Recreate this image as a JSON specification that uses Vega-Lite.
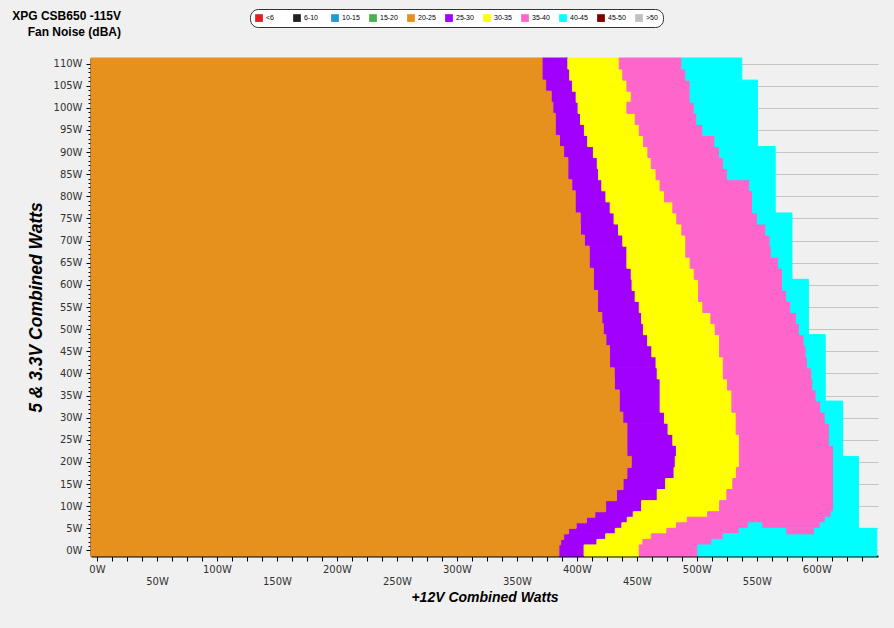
{
  "$schema": "https://vega.github.io/schema/vega-lite/v6.json",
  "width": 787,
  "height": 498,
  "autosize": {"type": "none"},
  "padding": {"left": 91, "top": 58, "right": 16, "bottom": 72},
  "background": "#f0f0f0",
  "title": {
    "text": ["XPG CSB650 -115V", "Fan Noise (dBA)"],
    "anchor": "start",
    "frame": "group",
    "align": "right",
    "dx": 30,
    "offset": 0,
    "dy": 30,
    "font": "Liberation Sans",
    "fontSize": 12,
    "fontWeight": "bold",
    "color": "#000000",
    "lineHeight": 15.5
  },
  "config": {
    "view": {"stroke": null},
    "axis": {
      "labelFont": "DejaVu Sans",
      "labelFontSize": 10,
      "labelColor": "#333333",
      "domainColor": "#000000",
      "domainWidth": 2,
      "tickColor": "#000000",
      "tickWidth": 1,
      "titleFont": "Liberation Sans",
      "titleFontWeight": "bold",
      "titleFontStyle": "italic",
      "titleColor": "#000000",
      "labelOverlap": false,
      "labelBound": false,
      "labelFlush": false
    }
  },
  "datasets": {
    "rows": [
      {"y0": -1.25, "y1": 0, "b1": 385, "b2": 406, "b3": 452, "b4": 500.8, "b5": 650},
      {"y0": 0, "y1": 1.25, "b1": 385, "b2": 406, "b3": 452, "b4": 500.8, "b5": 650},
      {"y0": 1.25, "y1": 2.5, "b1": 386.5, "b2": 416.7, "b3": 455, "b4": 512.5, "b5": 650},
      {"y0": 2.5, "y1": 3.75, "b1": 389, "b2": 424, "b3": 462, "b4": 522, "b5": 650},
      {"y0": 3.75, "y1": 5, "b1": 393, "b2": 432, "b3": 475, "b4": 535.3, "b5": 650},
      {"y0": 5, "y1": 6.25, "b1": 399.4, "b2": 437.5, "b3": 483, "b4": 602.8, "b5": 634.7},
      {"y0": 6.25, "y1": 7.5, "b1": 408, "b2": 442, "b3": 492, "b4": 607, "b5": 634.7},
      {"y0": 7.5, "y1": 8.75, "b1": 415, "b2": 447, "b3": 509, "b4": 612, "b5": 634.7},
      {"y0": 8.75, "y1": 11.25, "b1": 424, "b2": 454, "b3": 519, "b4": 613.9, "b5": 634.7},
      {"y0": 11.25, "y1": 13.75, "b1": 433, "b2": 467, "b3": 525, "b4": 613.9, "b5": 634.7},
      {"y0": 13.75, "y1": 16.25, "b1": 438.5, "b2": 474, "b3": 530, "b4": 613.9, "b5": 634.7},
      {"y0": 16.25, "y1": 18.75, "b1": 441.7, "b2": 481, "b3": 533, "b4": 613.9, "b5": 634.7},
      {"y0": 18.75, "y1": 21.25, "b1": 445.3, "b2": 482, "b3": 535.5, "b4": 613.9, "b5": 634.7},
      {"y0": 21.25, "y1": 23.75, "b1": 441.7, "b2": 483, "b3": 535.5, "b4": 613.9, "b5": 621.6},
      {"y0": 23.75, "y1": 26.25, "b1": 441.7, "b2": 480, "b3": 535.5, "b4": 610.5, "b5": 621.6},
      {"y0": 26.25, "y1": 28.75, "b1": 441.7, "b2": 476, "b3": 532.8, "b4": 610.5, "b5": 621.6},
      {"y0": 28.75, "y1": 31.25, "b1": 438.3, "b2": 473, "b3": 532.8, "b4": 607, "b5": 621.6},
      {"y0": 31.25, "y1": 33.75, "b1": 435.3, "b2": 469.4, "b3": 529.2, "b4": 603.3, "b5": 621.6},
      {"y0": 33.75, "y1": 36.25, "b1": 435.3, "b2": 469.4, "b3": 529.2, "b4": 599.4, "b5": 607},
      {"y0": 36.25, "y1": 38.75, "b1": 431.3, "b2": 469.4, "b3": 525.5, "b4": 596.7, "b5": 607},
      {"y0": 38.75, "y1": 41.25, "b1": 431.1, "b2": 467, "b3": 522, "b4": 595.8, "b5": 607},
      {"y0": 41.25, "y1": 43.75, "b1": 427.2, "b2": 466, "b3": 522, "b4": 592.2, "b5": 607},
      {"y0": 43.75, "y1": 46.25, "b1": 427.2, "b2": 462.5, "b3": 518.9, "b4": 591, "b5": 607},
      {"y0": 46.25, "y1": 48.75, "b1": 424.2, "b2": 459, "b3": 518.9, "b4": 589.4, "b5": 607},
      {"y0": 48.75, "y1": 51.25, "b1": 422, "b2": 455.5, "b3": 515.3, "b4": 585.5, "b5": 593},
      {"y0": 51.25, "y1": 53.75, "b1": 420.8, "b2": 454, "b3": 511.7, "b4": 583, "b5": 593},
      {"y0": 53.75, "y1": 56.25, "b1": 417.2, "b2": 452, "b3": 505, "b4": 578.3, "b5": 593},
      {"y0": 56.25, "y1": 58.75, "b1": 417.2, "b2": 448.6, "b3": 501.4, "b4": 575, "b5": 593},
      {"y0": 58.75, "y1": 61.25, "b1": 413.8, "b2": 446, "b3": 501.4, "b4": 571.4, "b5": 593},
      {"y0": 61.25, "y1": 63.75, "b1": 413.8, "b2": 445.3, "b3": 497.8, "b4": 571.4, "b5": 579.3},
      {"y0": 63.75, "y1": 66.25, "b1": 410.3, "b2": 441.7, "b3": 494.4, "b4": 568, "b5": 579.3},
      {"y0": 66.25, "y1": 68.75, "b1": 410.3, "b2": 441.7, "b3": 490.8, "b4": 562, "b5": 579.3},
      {"y0": 68.75, "y1": 71.25, "b1": 406.3, "b2": 438.3, "b3": 490.8, "b4": 561, "b5": 579.3},
      {"y0": 71.25, "y1": 73.75, "b1": 403, "b2": 434.7, "b3": 487.5, "b4": 557.5, "b5": 579.3},
      {"y0": 73.75, "y1": 76.25, "b1": 402.8, "b2": 431, "b3": 483.3, "b4": 550.5, "b5": 579.3},
      {"y0": 76.25, "y1": 78.75, "b1": 398.6, "b2": 427.8, "b3": 480, "b4": 546.4, "b5": 565.3},
      {"y0": 78.75, "y1": 81.25, "b1": 398.6, "b2": 424.2, "b3": 473, "b4": 546.4, "b5": 565.3},
      {"y0": 81.25, "y1": 83.75, "b1": 395.8, "b2": 420.8, "b3": 469.4, "b4": 544, "b5": 565.3},
      {"y0": 83.75, "y1": 86.25, "b1": 392.5, "b2": 418, "b3": 466, "b4": 525.5, "b5": 565.3},
      {"y0": 86.25, "y1": 88.75, "b1": 392.5, "b2": 417, "b3": 462, "b4": 522.2, "b5": 565.3},
      {"y0": 88.75, "y1": 91.25, "b1": 389, "b2": 413.8, "b3": 459.2, "b4": 518.9, "b5": 565.3},
      {"y0": 91.25, "y1": 93.75, "b1": 385.5, "b2": 409, "b3": 455.5, "b4": 515, "b5": 550.5},
      {"y0": 93.75, "y1": 96.25, "b1": 382, "b2": 406.3, "b3": 452, "b4": 505, "b5": 550.5},
      {"y0": 96.25, "y1": 98.75, "b1": 382, "b2": 403, "b3": 448.6, "b4": 500, "b5": 550.5},
      {"y0": 98.75, "y1": 101.25, "b1": 380, "b2": 401, "b3": 441.7, "b4": 497.8, "b5": 550.5},
      {"y0": 101.25, "y1": 103.75, "b1": 378.6, "b2": 399.4, "b3": 445.3, "b4": 494.4, "b5": 550.5},
      {"y0": 103.75, "y1": 106.25, "b1": 374, "b2": 396.3, "b3": 441.7, "b4": 494.4, "b5": 550.5},
      {"y0": 106.25, "y1": 108.75, "b1": 371, "b2": 394, "b3": 438.3, "b4": 490.8, "b5": 537.5},
      {"y0": 108.75, "y1": 111.25, "b1": 371, "b2": 392.5, "b3": 435.3, "b4": 487.5, "b5": 537.5}
    ],
    "pinkIsland": [
      {"y0": 3.75, "y1": 5, "x0": 575, "x1": 597.2}
    ],
    "cyanIsland": [
      {"y0": 5, "y1": 6.25, "x0": 543, "x1": 554.2}
    ]
  },
  "layer": [
    {
      "data": {"name": "rows"},
      "mark": {"type": "rect", "stroke": "#a100ff", "strokeWidth": 1},
      "encoding": {
        "x": {
          "field": "b1",
          "type": "quantitative",
          "scale": {"domain": [-5, 651], "nice": false, "zero": false},
          "axis": {
            "title": "+12V Combined Watts",
            "values": [0, 12.5, 25, 37.5, 50, 62.5, 75, 87.5, 100, 112.5, 125, 137.5, 150, 162.5, 175, 187.5, 200, 212.5, 225, 237.5, 250, 262.5, 275, 287.5, 300, 312.5, 325, 337.5, 350, 362.5, 375, 387.5, 400, 412.5, 425, 437.5, 450, 462.5, 475, 487.5, 500, 512.5, 525, 537.5, 550, 562.5, 575, 587.5, 600, 612.5, 625, 637.5],
            "tickCount": 1000,
            "labelExpr": "datum.value % 100 === 0 ? datum.value + 'W' : (datum.value % 50 === 0 ? ['', datum.value + 'W'] : '')",
            "labelLineHeight": 12,
            "labelPadding": 3,
            "tickSize": 5,
            "grid": false,
            "titleFontSize": 14,
            "titlePadding": 4
          }
        },
        "x2": {"field": "b2"},
        "y": {
          "field": "y0",
          "type": "quantitative",
          "scale": {"domain": [-1.25, 111.25], "nice": false, "zero": false},
          "axis": {
            "title": "5 & 3.3V Combined Watts",
            "values": [0,1,2,3,4,5,6,7,8,9,10,11,12,13,14,15,16,17,18,19,20,21,22,23,24,25,26,27,28,29,30,31,32,33,34,35,36,37,38,39,40,41,42,43,44,45,46,47,48,49,50,51,52,53,54,55,56,57,58,59,60,61,62,63,64,65,66,67,68,69,70,71,72,73,74,75,76,77,78,79,80,81,82,83,84,85,86,87,88,89,90,91,92,93,94,95,96,97,98,99,100,101,102,103,104,105,106,107,108,109,110],
            "tickCount": 1000,
            "labelExpr": "datum.value % 5 === 0 ? datum.value + 'W' : ''",
            "tickSize": {"condition": {"test": "datum.value % 5 === 0", "value": 5}, "value": 3},
            "labelPadding": 4,
            "grid": true,
            "gridColor": "#c4c4c4",
            "gridOpacity": {"condition": {"test": "datum.value % 5 !== 0", "value": 0}, "value": 1},
            "titleFontSize": 17.5,
            "titlePadding": 8
          }
        },
        "y2": {"field": "y1"},
        "color": {
          "datum": "25-30",
          "type": "nominal",
          "scale": {
            "domain": ["<6", "6-10", "10-15", "15-20", "20-25", "25-30", "30-35", "35-40", "40-45", "45-50", ">50"],
            "range": ["#e02020", "#222222", "#1e9ad6", "#4cb050", "#e6901e", "#a100ff", "#ffff00", "#ff66cc", "#00ffff", "#800000", "#c0c0c0"]
          },
          "legend": {
            "orient": "none",
            "legendX": 159,
            "legendY": -49,
            "direction": "horizontal",
            "columns": 11,
            "gridAlign": "all",
            "columnPadding": 9,
            "title": null,
            "symbolType": "square",
            "symbolSize": 60,
            "symbolStrokeWidth": 0,
            "labelFont": "Liberation Sans",
            "labelFontSize": 7,
            "labelColor": "#000000",
            "labelOffset": 3,
            "padding": 5,
            "strokeColor": "#333333",
            "fillColor": "#ffffff",
            "cornerRadius": 8
          }
        }
      }
    },
    {
      "data": {"name": "rows"},
      "mark": {"type": "rect", "stroke": "#ffff00", "strokeWidth": 1},
      "encoding": {
        "x": {"field": "b2", "type": "quantitative"},
        "x2": {"field": "b3"},
        "y": {"field": "y0", "type": "quantitative"},
        "y2": {"field": "y1"},
        "color": {"datum": "30-35", "type": "nominal"}
      }
    },
    {
      "data": {"name": "rows"},
      "mark": {"type": "rect", "stroke": "#ff66cc", "strokeWidth": 1},
      "encoding": {
        "x": {"field": "b3", "type": "quantitative"},
        "x2": {"field": "b4"},
        "y": {"field": "y0", "type": "quantitative"},
        "y2": {"field": "y1"},
        "color": {"datum": "35-40", "type": "nominal"}
      }
    },
    {
      "data": {"name": "rows"},
      "mark": {"type": "rect", "stroke": "#00ffff", "strokeWidth": 1},
      "encoding": {
        "x": {"field": "b4", "type": "quantitative"},
        "x2": {"field": "b5"},
        "y": {"field": "y0", "type": "quantitative"},
        "y2": {"field": "y1"},
        "color": {"datum": "40-45", "type": "nominal"}
      }
    },
    {
      "data": {"name": "rows"},
      "mark": {"type": "rect", "stroke": "#e6901e", "strokeWidth": 1},
      "encoding": {
        "x": {"field": "b1", "type": "quantitative"},
        "x2": {"datum": -5},
        "y": {"field": "y0", "type": "quantitative"},
        "y2": {"field": "y1"},
        "color": {"datum": "20-25", "type": "nominal"}
      }
    },
    {
      "data": {"name": "pinkIsland"},
      "mark": {"type": "rect", "stroke": "#ff66cc", "strokeWidth": 1},
      "encoding": {
        "x": {"field": "x0", "type": "quantitative"},
        "x2": {"field": "x1"},
        "y": {"field": "y0", "type": "quantitative"},
        "y2": {"field": "y1"},
        "color": {"datum": "35-40", "type": "nominal"}
      }
    },
    {
      "data": {"name": "cyanIsland"},
      "mark": {"type": "rect", "stroke": "#00ffff", "strokeWidth": 1},
      "encoding": {
        "x": {"field": "x0", "type": "quantitative"},
        "x2": {"field": "x1"},
        "y": {"field": "y0", "type": "quantitative"},
        "y2": {"field": "y1"},
        "color": {"datum": "40-45", "type": "nominal"}
      }
    }
  ]
}
